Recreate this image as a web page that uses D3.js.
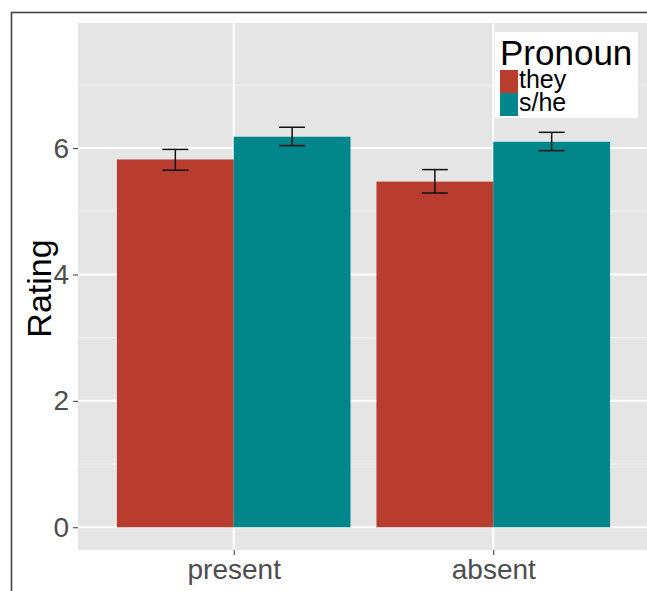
<!DOCTYPE html>
<html>
<head>
  <script src="https://d3js.org/d3.v7.min.js"></script>
  <style>
    body { margin: 0; background: #fff; font-family: 'Liberation Sans', Arial, sans-serif; }
  </style>
</head>
<body>
  <div id="chart"></div>
  <script>
    // data
    const conditions = ["present", "absent"];
    const pronouns = ["they", "s/he"];
    const meanThey = [5.82, 5.47];
    const meanShe = [6.18, 6.10];
    const lowThey = [5.65, 5.29];
    const highThey = [5.98, 5.66];
    const lowShe = [6.04, 5.96];
    const highShe = [6.33, 6.25];
    const yTicks = [0, 2, 4, 6];
    const colors = ["#b83d2f", "#00868b"];

    const rows = [];
    conditions.forEach((c, i) => {
      rows.push({ cond: c, pron: "they", mean: meanThey[i], lo: lowThey[i], hi: highThey[i] });
      rows.push({ cond: c, pron: "s/he", mean: meanShe[i], lo: lowShe[i], hi: highShe[i] });
    });

    const width = 647, height = 591;
    const panel = { left: 78, top: 23, right: 649, bottom: 550 };

    const svg = d3.select("#chart").append("svg")
      .attr("width", width)
      .attr("height", height);

    // outer frame
    svg.append("rect")
      .attr("x", 11.5).attr("y", 12.5)
      .attr("width", 700).attr("height", 700)
      .attr("fill", "none")
      .attr("stroke", "#444")
      .attr("stroke-width", 1.6);

    const y = d3.scaleLinear()
      .domain([-0.36, 7.98])
      .range([panel.bottom, panel.top]);

    // discrete x: positions 1,2 with 0.6 expansion
    const xPos = d3.scaleLinear()
      .domain([0.4, 2.6])
      .range([panel.left, panel.right]);
    const xCenter = c => xPos(conditions.indexOf(c) + 1);
    const step = xPos(2) - xPos(1);
    const barW = step * 0.9 / 2;

    const color = d3.scaleOrdinal().domain(pronouns).range(colors);

    svg.append("rect")
      .attr("x", panel.left).attr("y", panel.top)
      .attr("width", panel.right - panel.left)
      .attr("height", panel.bottom - panel.top)
      .attr("fill", "#e5e5e5");

    // minor grid
    svg.selectAll(".minor")
      .data([1, 3, 5, 7])
      .enter().append("line")
      .attr("x1", panel.left).attr("x2", panel.right)
      .attr("y1", d => y(d)).attr("y2", d => y(d))
      .attr("stroke", "#f2f2f2").attr("stroke-width", 1);

    // major grid
    svg.selectAll(".major")
      .data(yTicks)
      .enter().append("line")
      .attr("x1", panel.left).attr("x2", panel.right)
      .attr("y1", d => y(d)).attr("y2", d => y(d))
      .attr("stroke", "#fff").attr("stroke-width", 2);

    svg.selectAll(".vgrid")
      .data(conditions)
      .enter().append("line")
      .attr("x1", d => xCenter(d)).attr("x2", d => xCenter(d))
      .attr("y1", panel.top).attr("y2", panel.bottom)
      .attr("stroke", "#fff").attr("stroke-width", 2);

    // bars
    const barX = d => xCenter(d.cond) + (d.pron === "they" ? -barW : 0);
    svg.selectAll(".bar")
      .data(rows)
      .enter().append("rect")
      .attr("x", barX)
      .attr("width", barW)
      .attr("y", d => y(d.mean))
      .attr("height", d => y(0) - y(d.mean))
      .attr("fill", d => color(d.pron));

    // error bars
    const eb = svg.selectAll(".err")
      .data(rows)
      .enter().append("g")
      .attr("stroke", "#111").attr("stroke-width", 1.5);
    const cx = d => barX(d) + barW / 2;
    eb.append("line")
      .attr("x1", cx).attr("x2", cx)
      .attr("y1", d => y(d.lo)).attr("y2", d => y(d.hi));
    eb.append("line")
      .attr("x1", d => cx(d) - 13).attr("x2", d => cx(d) + 13)
      .attr("y1", d => y(d.lo)).attr("y2", d => y(d.lo));
    eb.append("line")
      .attr("x1", d => cx(d) - 13).attr("x2", d => cx(d) + 13)
      .attr("y1", d => y(d.hi)).attr("y2", d => y(d.hi));

    // y axis
    const yAxis = svg.append("g")
      .attr("transform", `translate(${panel.left},0)`)
      .call(d3.axisLeft(y).tickValues(yTicks).tickSize(5).tickPadding(4).tickFormat(d3.format("d")));
    yAxis.select(".domain").remove();
    yAxis.selectAll("line").attr("stroke", "#333");
    yAxis.selectAll("text")
      .attr("fill", "#4d4d4d")
      .style("font-size", "28px")
      .style("font-family", "'Liberation Sans', Arial, sans-serif");

    // x axis
    const xAxis = svg.append("g")
      .attr("transform", `translate(0,${panel.bottom})`)
      .call(d3.axisBottom(xPos).tickValues([1, 2]).tickSize(5).tickPadding(4)
        .tickFormat(d => conditions[d - 1]));
    xAxis.select(".domain").remove();
    xAxis.selectAll("line").attr("stroke", "#333");
    xAxis.selectAll("text")
      .attr("fill", "#4d4d4d")
      .style("font-size", "28px")
      .style("font-family", "'Liberation Sans', Arial, sans-serif");

    svg.append("text")
      .attr("transform", `translate(51,${(panel.top + panel.bottom) / 2 + 2}) rotate(-90)`)
      .attr("text-anchor", "middle")
      .style("font-size", "34px")
      .attr("fill", "#000")
      .text("Rating");

    // legend
    const lg = svg.append("g").attr("transform", "translate(495,32)");
    lg.append("rect")
      .attr("width", 143).attr("height", 86)
      .attr("fill", "#fff");
    lg.append("text")
      .attr("x", 5).attr("y", 33)
      .style("font-size", "35px")
      .attr("fill", "#000")
      .text("Pronoun");
    pronouns.forEach((p, i) => {
      lg.append("rect")
        .attr("x", 5).attr("y", 38 + i * 23)
        .attr("width", 18).attr("height", 23)
        .attr("fill", color(p));
      lg.append("text")
        .attr("x", 24).attr("y", 56 + i * 23)
        .style("font-size", "25px")
        .attr("fill", "#000")
        .text(p);
    });
  </script>
</body>
</html>
